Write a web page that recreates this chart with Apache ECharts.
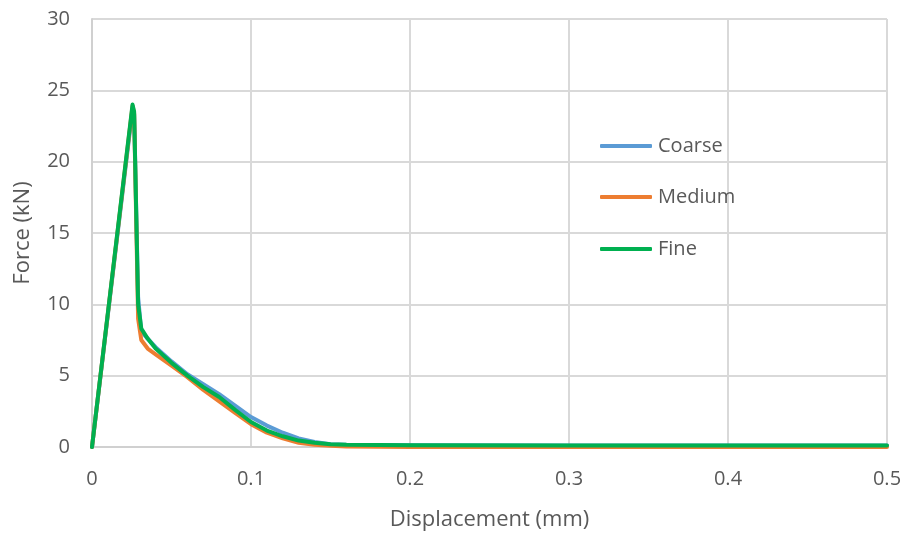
<!DOCTYPE html>
<html>
<head>
<meta charset="utf-8">
<script src="https://cdn.jsdelivr.net/npm/echarts@6/dist/echarts.min.js"></script>
<style>
  html, body { margin: 0; padding: 0; background: #fff; }
  #chart { width: 906px; height: 534px; }
</style>
</head>
<body>
<div id="chart"></div>
<script>
// Force–displacement response for three mesh densities
const displacement = [0, 0.0255, 0.0265, 0.029, 0.031, 0.035, 0.04, 0.05, 0.06, 0.07, 0.08, 0.09, 0.1, 0.11, 0.12, 0.13, 0.14, 0.15, 0.16, 0.2, 0.3, 0.4, 0.5];
const forceCoarse = [0, 23.7, 23.3, 10.5, 8.1, 7.6, 7.0, 6.0, 5.1, 4.4, 3.7, 2.9, 2.1, 1.5, 1.0, 0.6, 0.35, 0.2, 0.15, 0.12, 0.1, 0.1, 0.1];
const forceMedium = [0, 23.9, 23.4, 9.0, 7.5, 6.9, 6.5, 5.7, 4.9, 4.0, 3.2, 2.4, 1.6, 1.0, 0.6, 0.3, 0.15, 0.08, 0.03, 0, 0, 0, 0];
const forceFine = [0, 24.0, 23.5, 10.0, 8.3, 7.6, 6.9, 5.9, 5.0, 4.2, 3.5, 2.6, 1.75, 1.15, 0.75, 0.45, 0.3, 0.2, 0.15, 0.12, 0.1, 0.1, 0.1];
const seriesNames = ['Coarse', 'Medium', 'Fine'];
const seriesColors = ['#5B9BD5', '#ED7D31', '#00B050'];
const xTicks = [0, 0.1, 0.2, 0.3, 0.4, 0.5];
const yTicks = [0, 5, 10, 15, 20, 25, 30];

const pairs = (ys) => displacement.map((x, i) => [x, ys[i]]);
const allForces = [forceCoarse, forceMedium, forceFine];

const FONT = 'Open Sans';
const TEXT = '#595959';
const chart = echarts.init(document.getElementById('chart'), null, { renderer: 'canvas' });

// one legend block per series so each entry sits at its own height
const legendTops = [136, 187, 239];
chart.setOption({
  animation: false,
  backgroundColor: '#ffffff',
  grid: { left: 92, right: 19, top: 19, bottom: 87, containLabel: false, outerBoundsMode: 'none' },
  legend: seriesNames.map((name, i) => ({
    data: [name],
    left: 600,
    top: legendTops[i],
    padding: 0,
    itemWidth: 52,
    itemHeight: 4,
    icon: 'roundRect',
    itemGap: 0,
    textStyle: { fontFamily: FONT, fontSize: 20, color: TEXT, padding: [0, 0, 0, 1] }
  })),
  xAxis: {
    type: 'value',
    min: 0, max: 0.5, interval: 0.1,
    name: 'Displacement (mm)',
    nameLocation: 'middle',
    nameGap: 62,
    nameTextStyle: { fontFamily: FONT, fontSize: 22, color: TEXT },
    axisLine: { show: true, lineStyle: { color: '#d0d0d0', width: 2 } },
    axisTick: { show: false },
    splitLine: { show: true, lineStyle: { color: '#d9d9d9', width: 2 } },
    axisLabel: {
      margin: 22, fontFamily: FONT, fontSize: 20, color: TEXT,
      formatter: (v) => xTicks.includes(Math.round(v * 10) / 10) ? String(Math.round(v * 10) / 10) : ''
    }
  },
  yAxis: {
    type: 'value',
    min: 0, max: 30, interval: 5,
    name: 'Force (kN)',
    nameLocation: 'middle',
    nameGap: 58,
    nameTextStyle: { fontFamily: FONT, fontSize: 22, color: TEXT },
    axisLine: { show: true, lineStyle: { color: '#d0d0d0', width: 2 } },
    axisTick: { show: false },
    splitLine: { show: true, lineStyle: { color: '#d9d9d9', width: 2 } },
    axisLabel: {
      margin: 22, fontFamily: FONT, fontSize: 20, color: TEXT,
      formatter: (v) => yTicks.includes(v) ? String(v) : ''
    }
  },
  series: seriesNames.map((name, i) => ({
    name,
    type: 'line',
    data: pairs(allForces[i]),
    showSymbol: false,
    smooth: false,
    color: seriesColors[i],
    lineStyle: { width: 4, color: seriesColors[i], cap: 'round', join: 'round' },
    z: 2 + i
  }))
});
</script>
</body>
</html>
